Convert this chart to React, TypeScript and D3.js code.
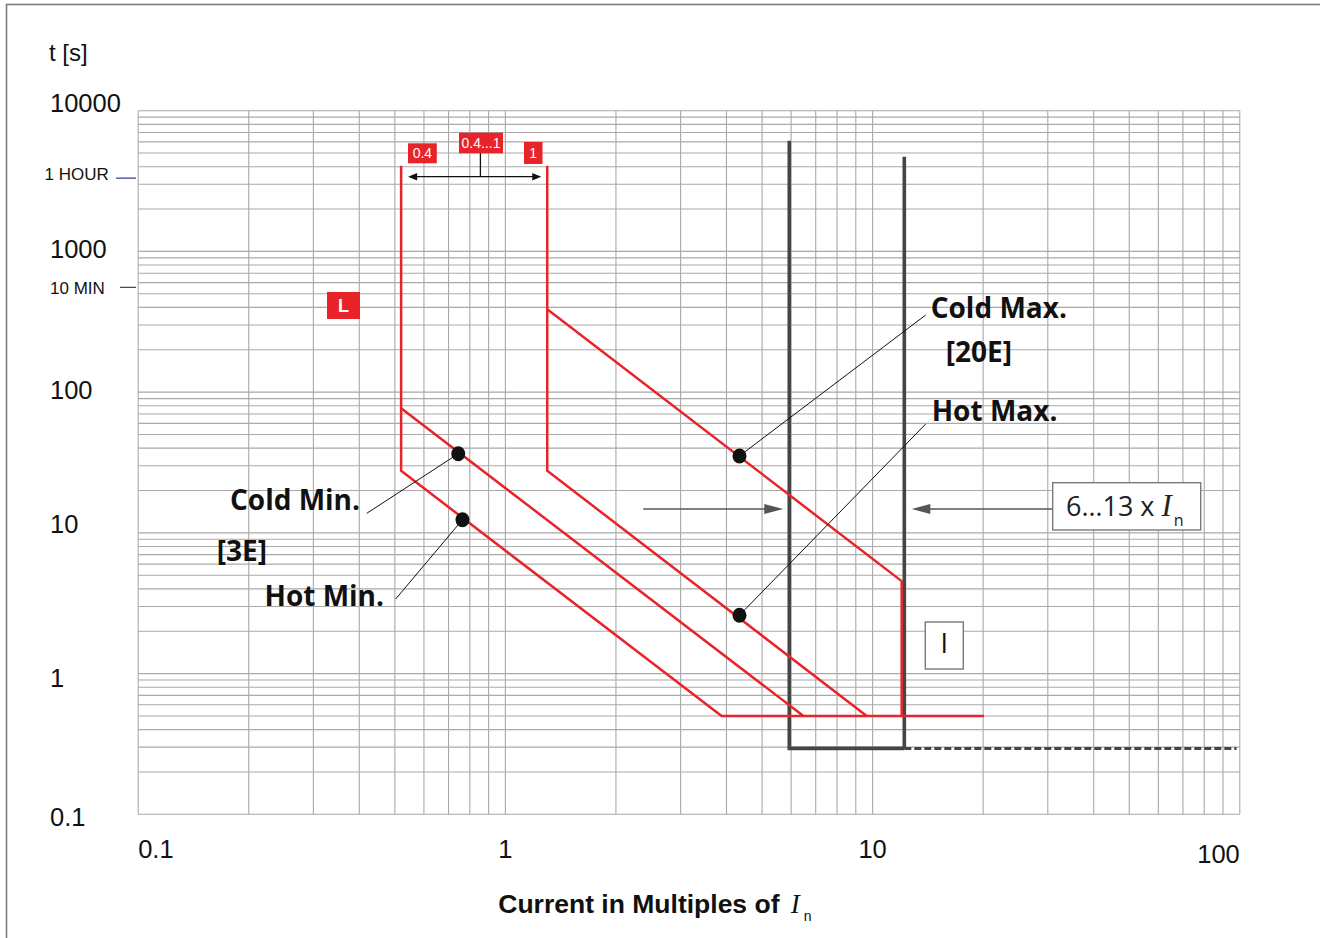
import React from 'react';
import * as d3 from 'd3';

// Axis ticks
const xTicks = [0.1, 1, 10, 100];
const xTickLabels = ['0.1', '1', '10', '100'];
const yTicks = [0.1, 1, 10, 100, 1000, 10000];
const yTickLabels = ['0.1', '1', '10', '100', '1000', '10000'];
const timeMarkValues = [3600, 600];
const timeMarkLabels = ['1 HOUR', '10 MIN'];

// Long-time protection (L) curves: current in multiples of In, trip time in s
const hotMinI = [0.52, 0.52, 3.88, 20.1];
const hotMinT = [4064, 27.6, 0.5, 0.5];
const coldMinI = [0.52, 6.48];
const coldMinT = [76.7, 0.5];
const hotMaxI = [1.3, 1.3, 9.64];
const hotMaxT = [4064, 27.6, 0.5];
const coldMaxI = [1.3, 12.0, 12.0];
const coldMaxT = [387.7, 4.54, 0.5];

// Instantaneous protection (I) band
const instLowI = [5.93, 5.93, 12.2];
const instLowT = [6120, 0.294, 0.294];
const instHighI = [12.2, 12.2];
const instHighT = [4710, 0.294];
const instTailI = [12.2, 98];
const instTailT = [0.294, 0.294];

// Class markers on the curves
const markerNames = ['Cold Min.', 'Hot Min.', 'Cold Max.', 'Hot Max.'];
const markerI = [0.744, 0.764, 4.34, 4.34];
const markerT = [36.5, 12.4, 35.2, 2.6];

const W = 1320;
const H = 938;
const RED = '#e8232a';
const DARK = '#454545';
const GRID = '#a9a9a9';

const x = d3.scaleLog().domain([0.1, 100]).range([138.2, 1239.8]);
const y = d3.scaleLog().domain([0.1, 10000]).range([814.3, 110.7]);

const line = d3
  .line<[number, number]>()
  .x((d) => x(d[0]))
  .y((d) => y(d[1]));

const zip = (a: number[], b: number[]) => a.map((v, i) => [v, b[i]] as [number, number]);

function gridValues(lo: number, hi: number): number[] {
  const out: number[] = [];
  for (let e = Math.round(Math.log10(lo)); e < Math.round(Math.log10(hi)); e++) {
    for (let k = 1; k < 10; k++) out.push(k * Math.pow(10, e));
  }
  out.push(hi);
  return out;
}

const boldLabel: React.CSSProperties = {
  fontFamily: '"Open Sans", sans-serif',
  fontWeight: 700,
  fontSize: 28,
};

// leader label anchors for each marker (text end of the leader)
const leaderEnds: [number, number][] = [
  [366.8, 513.3],
  [395.7, 599],
  [925.7, 315],
  [925.7, 424],
];

function Tag({ x0, y0, w, h, text, size }: { x0: number; y0: number; w: number; h: number; text: string; size: number }) {
  return (
    <g>
      <rect x={x0} y={y0} width={w} height={h} fill={RED} />
      <text
        x={x0 + w / 2}
        y={y0 + h / 2 + size * 0.36}
        textAnchor="middle"
        fill="#fff"
        style={{ fontFamily: '"Liberation Sans", Arial, sans-serif', fontSize: size }}
      >
        {text}
      </text>
    </g>
  );
}

export default function App() {
  const xs = gridValues(0.1, 100);
  const ys = gridValues(0.1, 10000);
  const [x0, x1] = x.range();
  const [y0, y1] = y.range();

  const yLabelShift = [12, 13, 0, 7, 7, 1.5];
  const xLabelAnchor = ['start', 'middle', 'middle', 'end'];
  const xLabelBase = [858, 858, 858, 862.5];

  const leftArrowY = 176.7;
  const lA = x(hotMinI[0]) + 7;
  const rA = x(hotMaxI[0]) - 6;
  const stemX = 480.4;

  const instArrowY = 509;

  return (
    <svg width={W} height={H} style={{ position: 'absolute', left: 0, top: 0, background: '#fff' }}>
      <rect x={6.5} y={4.5} width={1320} height={950} fill="#fff" stroke="#7a7a7a" strokeWidth={1.6} />

      {/* grid */}
      <g stroke={GRID} strokeWidth={1.1}>
        {xs.map((v, i) => (
          <line key={'gx' + i} x1={x(v)} x2={x(v)} y1={y1} y2={y0} />
        ))}
        {ys.map((v, i) => (
          <line key={'gy' + i} x1={x0} x2={x1} y1={y(v)} y2={y(v)} />
        ))}
      </g>

      {/* axis labels */}
      <g style={{ fontFamily: '"Liberation Sans", Arial, sans-serif', fontSize: 25.5 }} fill="#111">
        {yTicks.map((v, i) => (
          <text key={'yl' + i} x={50} y={y(v) + yLabelShift[i]}>
            {yTickLabels[i]}
          </text>
        ))}
        {xTicks.map((v, i) => (
          <text
            key={'xl' + i}
            x={i === 0 ? x0 : i === 3 ? x1 : x(v)}
            y={xLabelBase[i]}
            textAnchor={xLabelAnchor[i] as any}
          >
            {xTickLabels[i]}
          </text>
        ))}
        <text x={49} y={61} style={{ fontSize: 24 }}>
          t [s]
        </text>
      </g>

      {/* time reference marks */}
      <g style={{ fontFamily: '"Liberation Sans", Arial, sans-serif', fontSize: 17 }} fill="#111">
        <text x={44.6} y={y(timeMarkValues[0]) + 6.5}>
          {timeMarkLabels[0]}
        </text>
        <line x1={116} x2={136} y1={y(timeMarkValues[0]) + 5} y2={y(timeMarkValues[0]) + 5} stroke="#2b3a8c" strokeWidth={1.2} />
        <text x={50} y={y(timeMarkValues[1]) + 11}>
          {timeMarkLabels[1]}
        </text>
        <line x1={120} x2={136} y1={y(timeMarkValues[1]) + 4.7} y2={y(timeMarkValues[1]) + 4.7} stroke="#3a3f5c" strokeWidth={1.2} />
      </g>

      {/* instantaneous band */}
      <g fill="none" stroke={DARK} strokeWidth={3.6}>
        <path d={line(zip(instLowI, instLowT)) || ''} strokeLinejoin="miter" />
        <path d={line(zip(instHighI, instHighT)) || ''} />
        <path d={line(zip(instTailI, instTailT)) || ''} strokeDasharray="7 3" strokeWidth={3} />
      </g>

      {/* long-time curves */}
      <g fill="none" stroke={RED} strokeWidth={2.5} strokeLinejoin="round">
        <path d={line(zip(hotMinI, hotMinT)) || ''} />
        <path d={line(zip(coldMinI, coldMinT)) || ''} />
        <path d={line(zip(hotMaxI, hotMaxT)) || ''} />
        <path d={line(zip(coldMaxI, coldMaxT)) || ''} />
      </g>

      {/* leaders and markers */}
      <g stroke="#111" strokeWidth={1}>
        {markerI.map((v, i) => (
          <line key={'ld' + i} x1={x(v)} y1={y(markerT[i])} x2={leaderEnds[i][0]} y2={leaderEnds[i][1]} />
        ))}
      </g>
      <g fill="#111">
        {markerI.map((v, i) => (
          <ellipse key={'mk' + i} cx={x(v)} cy={y(markerT[i])} rx={7} ry={7.5} />
        ))}
      </g>

      {/* curve names */}
      <g style={boldLabel} fill="#111">
        <text x={360} y={510} textAnchor="end">{markerNames[0]}</text>
        <text x={216.8} y={561}>[3E]</text>
        <text x={384} y={606} textAnchor="end">{markerNames[1]}</text>
        <text x={930.7} y={318}>{markerNames[2]}</text>
        <text x={945.7} y={362}>[20E]</text>
        <text x={931.7} y={421}>{markerNames[3]}</text>
      </g>

      {/* setting range arrow for L */}
      <g stroke="#111" strokeWidth={1.3}>
        <line x1={lA + 8} x2={rA - 8} y1={leftArrowY} y2={leftArrowY} />
        <line x1={stemX} x2={stemX} y1={153} y2={leftArrowY} />
      </g>
      <g fill="#111">
        <polygon points={`${lA},${leftArrowY} ${lA + 9},${leftArrowY - 3.8} ${lA + 9},${leftArrowY + 3.8}`} />
        <polygon points={`${rA},${leftArrowY} ${rA - 9},${leftArrowY - 3.8} ${rA - 9},${leftArrowY + 3.8}`} />
      </g>
      <Tag x0={408} y0={143.3} w={28.8} h={20} text="0.4" size={14} />
      <Tag x0={459} y0={132.7} w={44} h={20.6} text="0.4...1" size={14} />
      <Tag x0={524} y0={142} w={18.5} h={22} text="1" size={14} />

      <g>
        <rect x={327} y={292} width={33} height={27} fill={RED} />
        <text
          x={343.5}
          y={312}
          textAnchor="middle"
          fill="#fff"
          style={{ fontFamily: '"Liberation Sans", Arial, sans-serif', fontWeight: 700, fontSize: 18 }}
        >
          L
        </text>
      </g>

      {/* instantaneous setting range arrows */}
      <g stroke="#555" strokeWidth={1.3}>
        <line x1={643.3} x2={766} y1={instArrowY} y2={instArrowY} />
        <line x1={928} x2={1052.7} y1={instArrowY} y2={instArrowY} />
      </g>
      <g fill="#555">
        <polygon points={`${x(instLowI[0]) - 6},${instArrowY} ${x(instLowI[0]) - 25},${instArrowY - 5} ${x(instLowI[0]) - 25},${instArrowY + 5}`} />
        <polygon points={`${x(instHighI[0]) + 7.4},${instArrowY} ${x(instHighI[0]) + 26},${instArrowY - 5} ${x(instHighI[0]) + 26},${instArrowY + 5}`} />
      </g>
      <rect x={1052.7} y={482.7} width={148} height={47.3} fill="#fff" stroke="#7a7a7a" strokeWidth={1.4} />
      <text x={1066} y={515.7} fill="#222" style={{ fontFamily: '"Open Sans", sans-serif', fontSize: 27 }}>
        6…13 x{' '}
        <tspan style={{ fontFamily: '"Liberation Serif", serif', fontStyle: 'italic', fontSize: 31 }}>I</tspan>
        <tspan dx={2} dy={10} style={{ fontSize: 16 }}>n</tspan>
      </text>

      <rect x={925.3} y={622} width={38} height={47} fill="#fff" stroke="#7a7a7a" strokeWidth={1.4} />
      <text x={944.3} y={653} textAnchor="middle" fill="#111" style={{ fontFamily: '"Open Sans", sans-serif', fontSize: 27 }}>
        I
      </text>

      {/* x axis title */}
      <text x={498.3} y={913.3} fill="#111" style={{ fontFamily: '"Liberation Sans", Arial, sans-serif', fontWeight: 700, fontSize: 26.5 }}>
        Current in Multiples of{' '}
        <tspan dx={4} style={{ fontFamily: '"Liberation Serif", serif', fontStyle: 'italic', fontWeight: 400, fontSize: 27 }}>I</tspan>
        <tspan dx={4} dy={7.5} style={{ fontWeight: 400, fontSize: 14 }}>n</tspan>
      </text>
    </svg>
  );
}
